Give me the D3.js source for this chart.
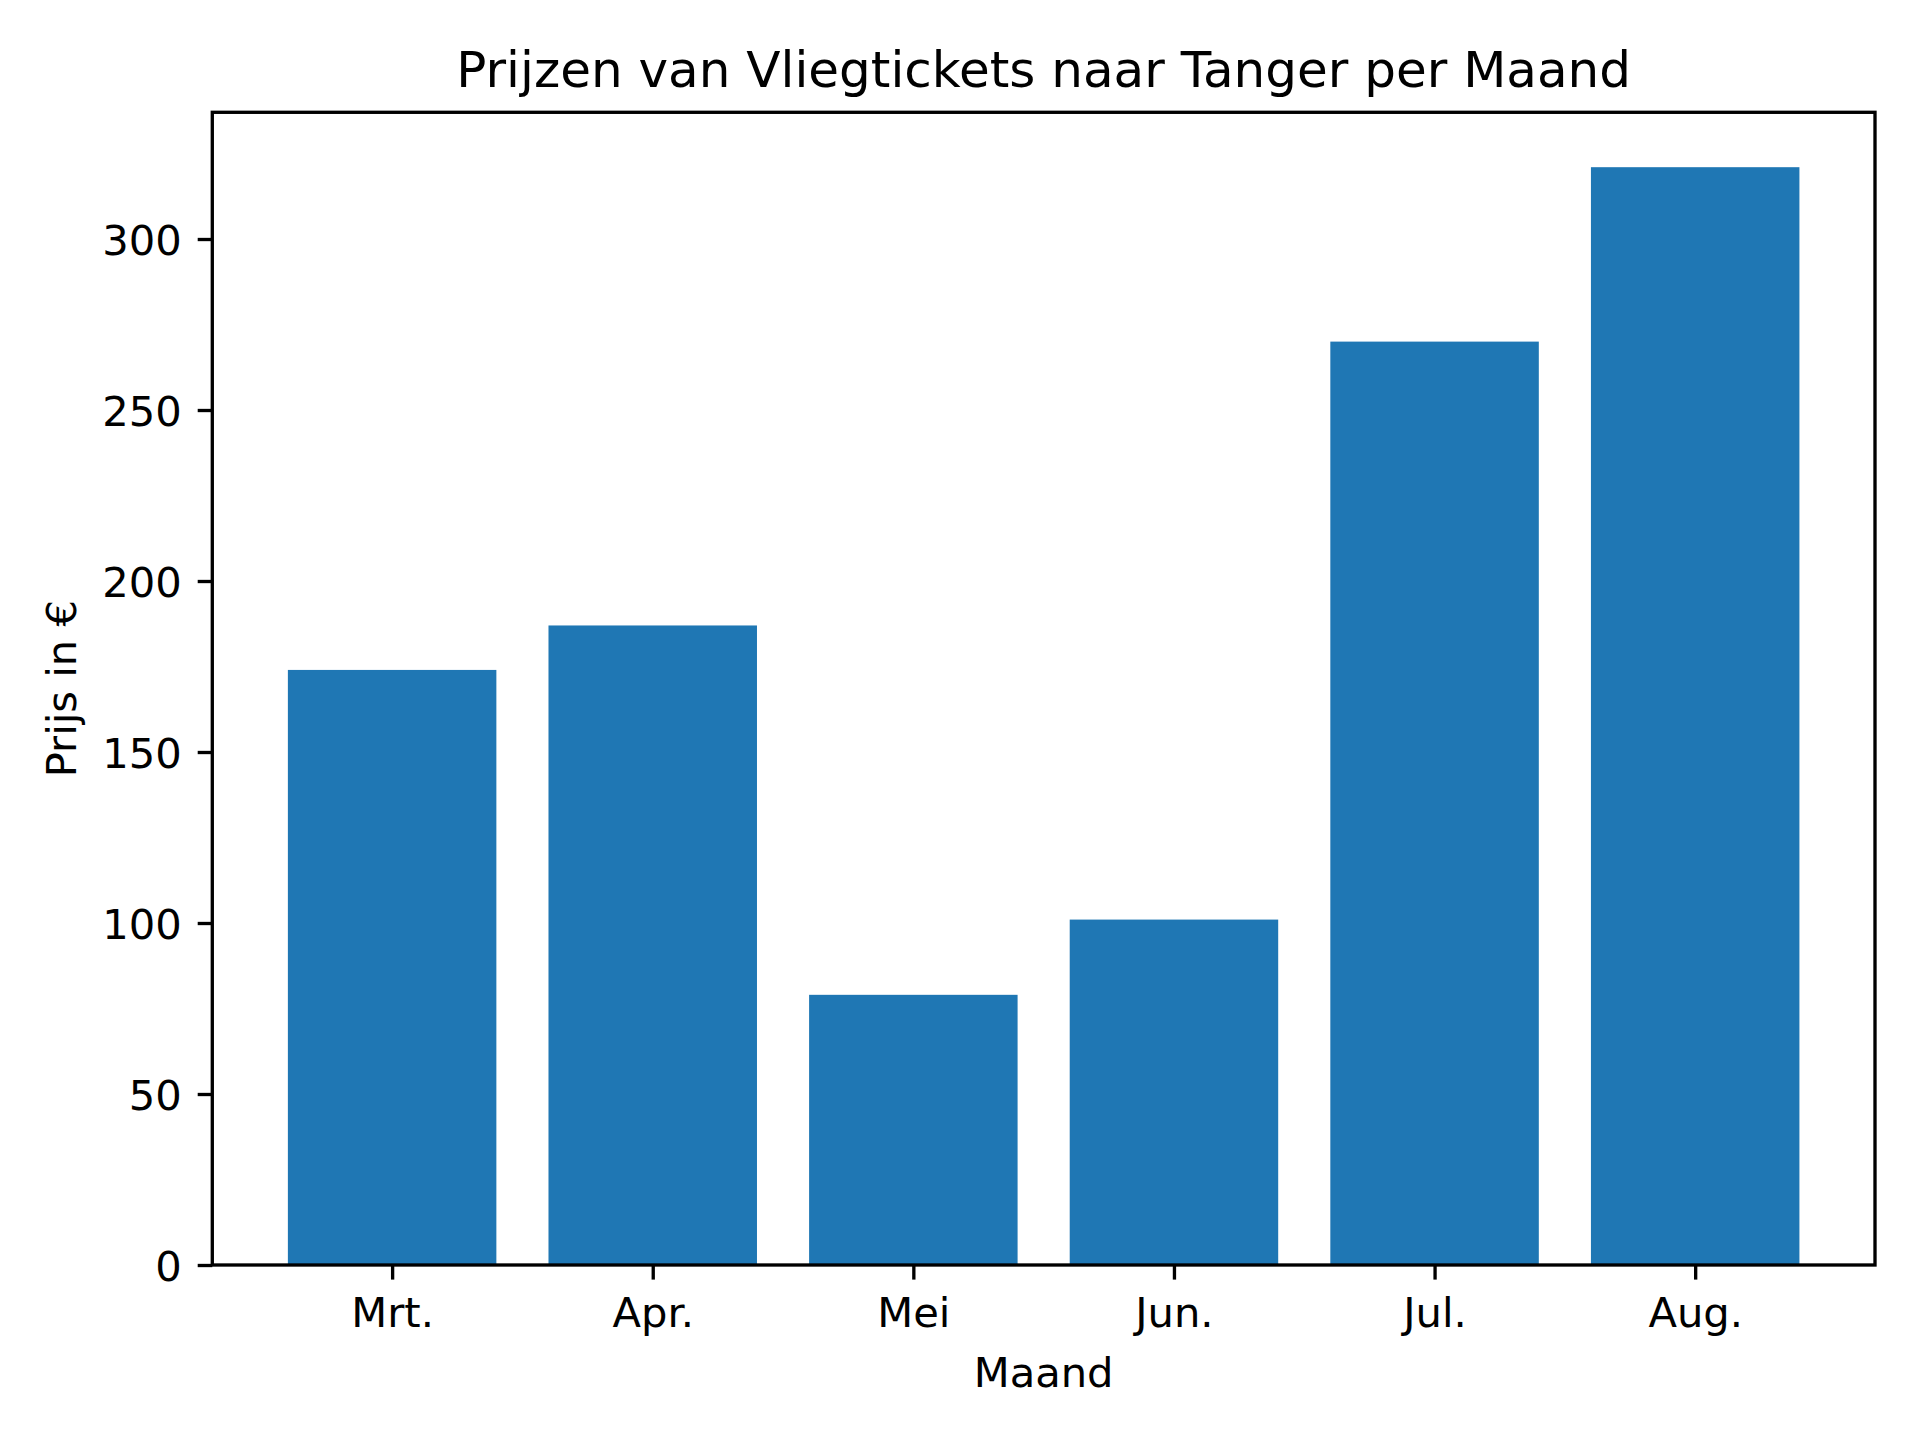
<!DOCTYPE html>
<html>
<head>
<meta charset="utf-8">
<script src="https://cdn.jsdelivr.net/npm/d3@7"></script>
<style>
  html, body { margin: 0; padding: 0; background: #ffffff; }
  svg { display: block; }
  text { font-family: "DejaVu Sans", sans-serif; fill: #000; }
</style>
</head>
<body>
<script>
const months = ["Mrt.", "Apr.", "Mei", "Jun.", "Jul.", "Aug."];
const prices = [174, 187, 79, 101, 270, 321];
const yTicks = [0, 50, 100, 150, 200, 250, 300];
const titleText = "Prijzen van Vliegtickets naar Tanger per Maand";
const xLabel = "Maand";
const yLabel = "Prijs in €";

const W = 1920, H = 1440;
const mLeft = 212.3, mRight = 1875, mTop = 112.3, mBottom = 1265;
const lw = 3.33;
const tickLen = 14.6;
const fontSize = 41.67;

const svg = d3.select("body").append("svg").attr("width", W).attr("height", H);
svg.append("rect").attr("width", W).attr("height", H).attr("fill", "#fff");

const n = months.length;
const span = n - 1 + 0.8;
const x = d3.scaleLinear().domain([-0.4 - 0.05 * span, n - 1 + 0.4 + 0.05 * span]).range([mLeft, mRight]);
const yMax = d3.max(prices) * 1.05;
const y = d3.scaleLinear().domain([0, yMax]).range([mBottom, mTop]);

// bars
svg.append("g").selectAll("rect").data(prices).join("rect")
  .attr("x", (d, i) => x(i - 0.4))
  .attr("width", (d, i) => x(i + 0.4) - x(i - 0.4))
  .attr("y", d => y(d))
  .attr("height", d => y(0) - y(d))
  .attr("fill", "#1f77b4");

// x axis
const xAxis = d3.axisBottom(x).tickValues(d3.range(n)).tickFormat(i => months[i])
  .tickSize(tickLen).tickPadding(14.6).tickSizeOuter(0);
const gx = svg.append("g").attr("transform", `translate(0,${mBottom})`).call(xAxis);
gx.select(".domain").remove();
gx.selectAll(".tick line").attr("stroke", "#000").attr("stroke-width", lw);
gx.selectAll(".tick text").attr("font-size", fontSize).attr("font-family", "DejaVu Sans")
  .attr("dy", null).attr("y", 61.7).attr("fill", "#000");

// y axis
const yAxis = d3.axisLeft(y).tickValues(yTicks).tickFormat(d3.format("d"))
  .tickSize(tickLen).tickPadding(16).tickSizeOuter(0);
const gy = svg.append("g").attr("transform", `translate(${mLeft},0)`).call(yAxis);
gy.select(".domain").remove();
gy.selectAll(".tick line").attr("stroke", "#000").attr("stroke-width", lw);
gy.selectAll(".tick text").attr("font-size", fontSize).attr("font-family", "DejaVu Sans")
  .attr("dy", null).attr("y", 15).attr("fill", "#000");

// frame
svg.append("rect").attr("x", mLeft).attr("y", mTop)
  .attr("width", mRight - mLeft).attr("height", mBottom - mTop)
  .attr("fill", "none").attr("stroke", "#000").attr("stroke-width", lw)
  .attr("stroke-linejoin", "miter");

// title
svg.append("text").attr("x", (mLeft + mRight) / 2).attr("y", 87.3)
  .attr("text-anchor", "middle").attr("font-size", 50).text(titleText);

// x label
svg.append("text").attr("x", (mLeft + mRight) / 2).attr("y", 1386.7)
  .attr("text-anchor", "middle").attr("font-size", fontSize).text(xLabel);

// y label
svg.append("text").attr("transform", `translate(76,${(mTop + mBottom) / 2}) rotate(-90)`)
  .attr("text-anchor", "middle").attr("font-size", fontSize).text(yLabel);
</script>
</body>
</html>
